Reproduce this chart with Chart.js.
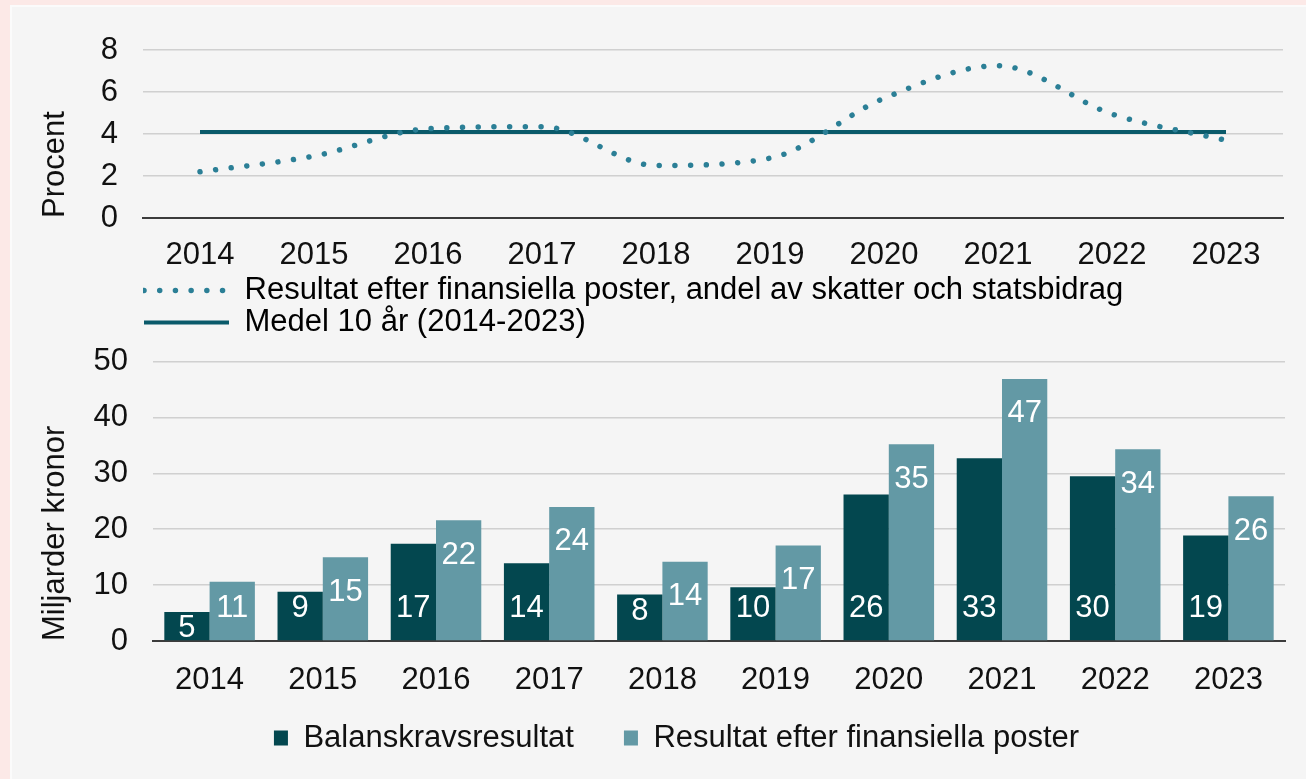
<!DOCTYPE html>
<html>
<head>
<meta charset="utf-8">
<script src="https://cdn.jsdelivr.net/npm/chart.js@4/dist/chart.umd.min.js"></script>
<style>
  body { margin: 0; background: #fce9e7; overflow: hidden; }
  #panel { position: absolute; left: 10px; top: 5px; right: 0; bottom: 0; background: #f5f5f5; border-top: 2px solid #fbfbfb; border-left: 2px solid #fbfbfb; }
  #topWrap { position: absolute; left: 0; top: 0; width: 1306px; height: 350px; }
  #bottomWrap { position: absolute; left: 0; top: 318px; width: 1306px; height: 482px; }
</style>
</head>
<body>
<div id="panel"></div>
<div id="topWrap"><canvas id="lineChart"></canvas></div>
<div id="bottomWrap"><canvas id="barChart"></canvas></div>
<script>
const years = ["2014", "2015", "2016", "2017", "2018", "2019", "2020", "2021", "2022", "2023"];

// Procent: resultat efter finansiella poster, andel av skatter och statsbidrag
const andel = [2.2, 2.95, 4.25, 4.35, 2.5, 2.85, 5.7, 7.25, 4.95, 3.7];
const medel = [4.1, 4.1, 4.1, 4.1, 4.1, 4.1, 4.1, 4.1, 4.1, 4.1];

// Miljarder kronor
const balanskrav = [5.2, 8.8, 17.4, 13.9, 8.3, 9.6, 26.2, 32.7, 29.5, 18.9];
const resultat = [10.6, 15.0, 21.6, 24.0, 14.2, 17.1, 35.2, 46.9, 34.3, 25.9];

const procentTicks = [0, 2, 4, 6, 8];
const kronorTicks = [0, 10, 20, 30, 40, 50];

const FONT = "'Liberation Sans', Arial, sans-serif";
const SIZE = 31;
const textColor = "#111";
const gridColor = "#d0d0d0";
const axisColor = "#3c3c3c";
const dotColor = "#2b7f96";
const meanColor = "#0a5a6a";
const darkBar = "#03474f";
const lightBar = "#6399a5";

Chart.defaults.font.family = FONT;
Chart.defaults.color = textColor;
Chart.defaults.animation = false;

// Top chart: line
new Chart(document.getElementById("lineChart"), {
  type: "line",
  data: {
    labels: years,
    datasets: [
      {
        label: "Resultat efter finansiella poster, andel av skatter och statsbidrag",
        data: andel,
        borderColor: dotColor,
        borderWidth: 5.5,
        borderDash: [0.01, 15.7],
        borderCapStyle: "round",
        cubicInterpolationMode: "monotone",
        pointRadius: 0,
        fill: false
      },
      {
        label: "Medel 10 år (2014-2023)",
        data: medel,
        borderColor: meanColor,
        borderWidth: 4,
        pointRadius: 0,
        fill: false
      }
    ]
  },
  options: {
    responsive: true,
    maintainAspectRatio: false,
    layout: { padding: { top: 50, right: 23, bottom: 2, left: 0 } },
    plugins: {
      tooltip: { enabled: false },
      legend: {
        position: "bottom",
        align: "start",
        fullSize: false,
        labels: {
          usePointStyle: true,
          pointStyleWidth: 85,
          padding: 1,
          font: { size: SIZE },
          color: textColor,
          generateLabels: chart => chart.data.datasets.map((ds, i) => ({
            text: ds.label,
            fillStyle: ds.borderColor,
            strokeStyle: ds.borderColor,
            lineWidth: ds.borderWidth,
            lineDash: ds.borderDash || [],
            lineCap: ds.borderCapStyle || "butt",
            pointStyle: "line",
            datasetIndex: i
          }))
        }
      }
    },
    scales: {
      x: {
        offset: true,
        grid: { display: false, drawTicks: false },
        border: { color: axisColor, width: 2 },
        ticks: { padding: 18.4, font: { size: SIZE } },
        afterFit: s => { s.height = 56; }
      },
      y: {
        min: 0,
        max: 8,
        afterBuildTicks: s => { s.ticks = procentTicks.map(v => ({ value: v })); },
        grid: { color: gridColor, lineWidth: 1.5, drawTicks: false },
        border: { display: false },
        ticks: { padding: 25, font: { size: SIZE } },
        title: {
          display: true,
          text: "Procent",
          align: "start",
          font: { size: SIZE },
          color: textColor,
          padding: { top: 36.4, bottom: 0 }
        },
        afterFit: s => { s.width = 143; }
      }
    }
  }
});

// Labels inside the bars
const barLabels = {
  id: "barLabels",
  afterDatasetsDraw(chart) {
    const ctx = chart.ctx;
    ctx.save();
    ctx.font = SIZE + "px " + FONT;
    ctx.fillStyle = "#ffffff";
    ctx.textAlign = "center";
    ctx.textBaseline = "middle";
    chart.data.datasets.forEach((ds, di) => {
      chart.getDatasetMeta(di).data.forEach((bar, i) => {
        const base = bar.base;
        let y;
        if (di === 0) {
          y = Math.max(base - 33, bar.y + 16);
        } else {
          y = Math.min(bar.y + 34, base - 33);
        }
        ctx.fillText(String(Math.round(ds.data[i])), bar.x, y + 1);
      });
    });
    ctx.restore();
  }
};

// Move the legend to where the reference has it
const legendShift = {
  id: "legendShift",
  afterLayout(chart) {
    const lg = chart.legend;
    if (lg) {
      lg.left += 34;
      lg.right += 34;
      lg.top -= 28.5;
      lg.bottom -= 28.5;
    }
  }
};

// Bottom chart: bars
new Chart(document.getElementById("barChart"), {
  type: "bar",
  data: {
    labels: years,
    datasets: [
      {
        label: "Balanskravsresultat",
        data: balanskrav,
        backgroundColor: darkBar,
        categoryPercentage: 0.8,
        barPercentage: 1.0
      },
      {
        label: "Resultat efter finansiella poster",
        data: resultat,
        backgroundColor: lightBar,
        categoryPercentage: 0.8,
        barPercentage: 1.0
      }
    ]
  },
  options: {
    responsive: true,
    maintainAspectRatio: false,
    layout: { padding: { top: 21, right: 21, bottom: 8, left: 0 } },
    plugins: {
      tooltip: { enabled: false },
      legend: {
        position: "bottom",
        align: "center",
        labels: {
          boxWidth: 14,
          boxHeight: 15,
          padding: 50,
          font: { size: SIZE },
          color: textColor
        }
      }
    },
    scales: {
      x: {
        grid: { display: false, drawTicks: false },
        border: { color: axisColor, width: 2 },
        ticks: { padding: 20.4, font: { size: SIZE } },
        afterFit: s => { s.height = 60; }
      },
      y: {
        min: 0,
        max: 50,
        afterBuildTicks: s => { s.ticks = kronorTicks.map(v => ({ value: v })); },
        grid: { color: gridColor, lineWidth: 1.5, drawTicks: false },
        border: { display: false },
        ticks: { padding: 25, font: { size: SIZE } },
        title: {
          display: true,
          text: "Miljarder kronor",
          align: "start",
          font: { size: SIZE },
          color: textColor,
          padding: { top: 36.4, bottom: 0 }
        },
        afterFit: s => { s.width = 153; }
      }
    }
  },
  plugins: [barLabels, legendShift]
});
</script>
</body>
</html>
